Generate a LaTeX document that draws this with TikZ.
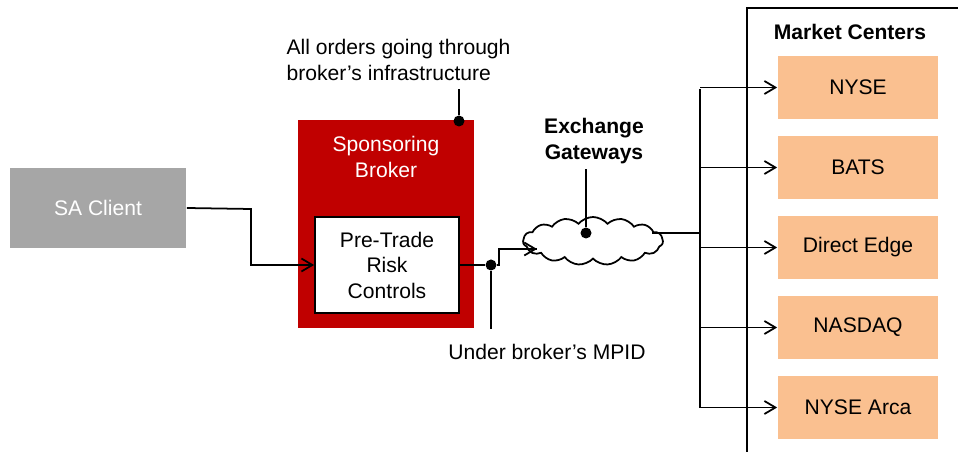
\documentclass[tikz,border=0pt]{standalone}
\usepackage{fontspec}
\setmainfont{Liberation Sans}
\usetikzlibrary{positioning,arrows.meta,calc,shapes.symbols}
\definecolor{brokerred}{RGB}{192,0,0}
\definecolor{clientgray}{RGB}{166,166,166}
\definecolor{peach}{RGB}{250,192,144}

\begin{document}
\begin{tikzpicture}[x=0.02cm, y=-0.02cm, line width=1pt,
  font=\fontsize{12}{14.5}\selectfont,
  >={Straight Barb[length=2.2mm, width=2.6mm]},
  box/.style={align=center, inner sep=2pt},
  mkt/.style={box, fill=peach, minimum width=3.2cm, minimum height=1.26cm},
  blob/.style={circle, fill=black, inner sep=0pt, minimum size=2.2mm},
  note/.style={align=center, inner sep=1pt}]
\useasboundingbox (0,0) rectangle (958,452);
% client and broker
\node[box, fill=clientgray, text=white, minimum width=3.52cm, minimum height=1.6cm] (client) at (98,208) {SA Client};
\node[box, fill=brokerred, minimum width=3.52cm, minimum height=4.16cm] (broker) at (386,224) {};
\node[note, text=white] (brokerlbl) at (386,157) {Sponsoring\\Broker};
\node[box, draw=black, fill=white, minimum width=2.88cm, minimum height=1.92cm] (risk) at (387,265) {Pre-Trade\\Risk\\Controls};
\draw[->] (client.east) -- (251,209) |- (risk.west);
% annotation: infrastructure
\node[note, align=left, anchor=west] (infra) at (284,60) {All orders going through\\broker's infrastructure};
\node[blob] (infradot) at (459,121) {};
\draw (infradot) -- (459,89);
% exchange gateways
\node[cloud, draw, fill=white, cloud puffs=15, cloud puff arc=100, aspect=3.2,
      minimum width=2.8cm, minimum height=0.96cm, inner sep=0pt] (gw) at (593,241) {};
\node[note, font=\fontsize{12}{14.5}\selectfont\bfseries] (gwlbl) at (594,141) {Exchange\\Gateways};
\node[blob] (gwdot) at (586,233) {};
\draw (gwdot) -- (586,169);
\node[blob] (mpiddot) at (491,265) {};
\draw (risk.east |- mpiddot) -- (mpiddot) -- (499,265) |- (537,249);
\draw[->] (499,249) -- (537,249);
\draw (mpiddot) -- (491,329);
\node[note] (mpid) at (547,352) {Under broker's MPID};
% market centers
\draw (747,452) -- (747,8) -- (958,8);
\node[note, font=\fontsize{12}{14.5}\selectfont\bfseries] (mclbl) at (850,32) {Market Centers};
\node[mkt] (nyse) at (858,87.5) {NYSE};
\node[mkt] (bats) at (858,167.5) {BATS};
\node[mkt] (edge) at (858,247.5) {Direct Edge};
\node[mkt] (nasdaq) at (858,327.5) {NASDAQ};
\node[mkt] (arca) at (858,407.5) {NYSE Arca};
\draw (652,233) -- (700,233) -- (700,248);
\draw (700,89) -- (700,408);
\foreach \m in {nyse,bats,edge,nasdaq,arca}
  \draw[->] (700,0 |- \m.west) -- (\m.west);
\end{tikzpicture}
\end{document}
